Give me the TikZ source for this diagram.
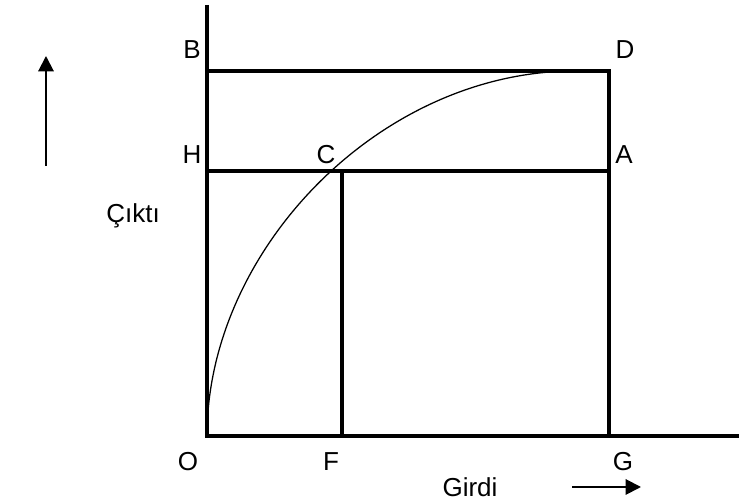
\documentclass[tikz,border=0pt]{standalone}
\usepackage{fontspec}
\setmainfont{Liberation Sans}
\usetikzlibrary{arrows.meta}

\begin{document}
\begin{tikzpicture}[>={Triangle[length=11pt,width=11pt]},
    axis/.style={line width=2.3pt},
    grid/.style={line width=2.3pt},
    curve/.style={line width=0.9pt},
    lbl/.style={font=\fontsize{18.5}{22}\selectfont, inner sep=0pt},
    dir/.style={->, line width=1.4pt}]
  \useasboundingbox (-5.175,-1.7) rectangle (13.3,10.9);
  %--- Coordinates
  \coordinate (O)  at (0,0);
  \coordinate (Yt) at (0,10.775);
  \coordinate (Xr) at (13.3,0);
  \coordinate (F)  at (3.375,0);
  \coordinate (G)  at (10.05,0);
  \coordinate (H)  at (0,6.625);
  \coordinate (C)  at (3.375,6.625);
  \coordinate (A)  at (10.05,6.625);
  \coordinate (B)  at (0,9.125);
  \coordinate (D)  at (10.05,9.125);
  \coordinate (T)  at (9.2,9.125);    % curve touches BD here
  %--- Axes
  \draw[axis] (Yt) -- (O) -- (Xr);
  %--- Lines
  \draw[grid] (B) -- (D) -- (G);
  \draw[grid] (H) -- (A);
  \draw[grid] (C) -- (F);
  %--- Curve
  \draw[curve] (O) .. controls (0,4.65) and (4.325,9.125) .. (T);
  %--- Point labels
  \node[lbl] (lB) at (-0.375,9.65) {B};
  \node[lbl] (lD) at (10.45,9.65) {D};
  \node[lbl] (lH) at (-0.375,7.025) {H};
  \node[lbl] (lC) at (2.975,7.025) {C};
  \node[lbl] (lA) at (10.425,7.025) {A};
  \node[lbl] (lO) at (-0.475,-0.65) {O};
  \node[lbl] (lF) at (3.1,-0.65) {F};
  \node[lbl] (lG) at (10.4,-0.65) {G};
  %--- Axis names and arrows
  \node[lbl] (girdi) at (6.575,-1.275) {Girdi};
  \coordinate (gs) at (9.125,-1.275);
  \coordinate (ge) at (10.85,-1.275);
  \draw[dir] (gs) -- (ge);
  \node[lbl] (cikti) at (-1.85,5.5) {Çıktı};
  \coordinate (cs) at (-4.025,6.75);
  \coordinate (ce) at (-4.025,9.5);
  \draw[dir] (cs) -- (ce);
\end{tikzpicture}
\end{document}
